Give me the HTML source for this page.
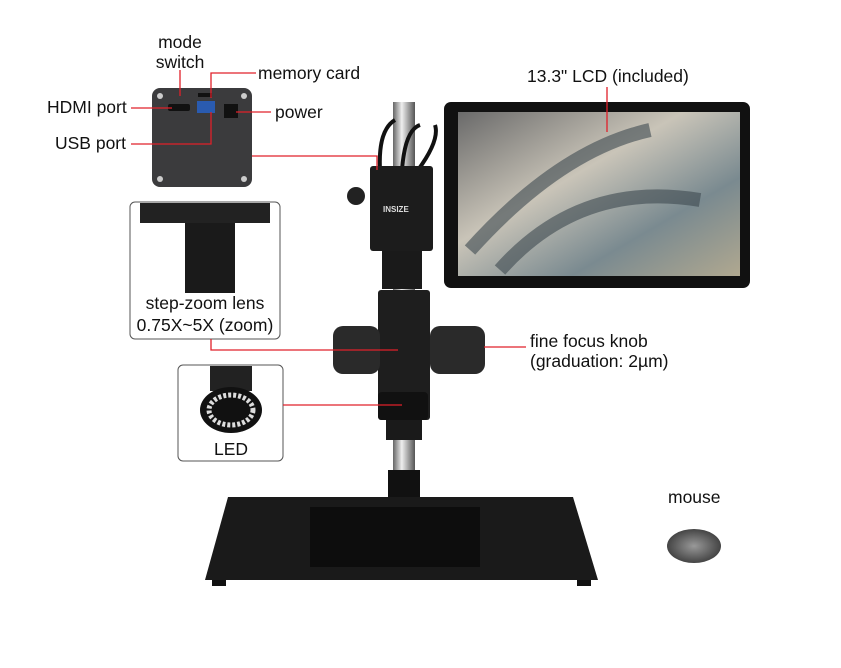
<!DOCTYPE html>
<html><head><style>
body{margin:0;background:#fff;}
svg text{font-family:"Liberation Sans",sans-serif;font-size:17.5px;fill:#111;}
</style></head><body>
<svg width="841" height="663" viewBox="0 0 841 663" xmlns="http://www.w3.org/2000/svg">
<defs>
<linearGradient id="pole" x1="0" x2="1"><stop offset="0" stop-color="#666"/><stop offset=".4" stop-color="#eee"/><stop offset="1" stop-color="#555"/></linearGradient>
<linearGradient id="scr" x1="0" x2="1" y1="0" y2="1"><stop offset="0" stop-color="#6a6a6a"/><stop offset=".4" stop-color="#c9c4b8"/><stop offset=".7" stop-color="#7a8a90"/><stop offset="1" stop-color="#b0a890"/></linearGradient>
<radialGradient id="mouse"><stop offset="0" stop-color="#999"/><stop offset="1" stop-color="#444"/></radialGradient>
</defs>
<rect x="152" y="88" width="100" height="99" rx="8" fill="#3b3b3d"/>
<circle cx="160" cy="96" r="3" fill="#ccc"/><circle cx="244" cy="96" r="3" fill="#ccc"/>
<circle cx="160" cy="179" r="3" fill="#ccc"/><circle cx="244" cy="179" r="3" fill="#ccc"/>
<rect x="168" y="104" width="22" height="7" rx="2" fill="#111"/>
<rect x="197" y="101" width="18" height="12" fill="#2a5bb0"/>
<rect x="224" y="104" width="14" height="14" fill="#111"/>
<rect x="198" y="93" width="14" height="4" fill="#111"/>
<rect x="393" y="102" width="22" height="390" fill="url(#pole)"/>
<path d="M380 170 Q378 130 395 120 M402 170 Q405 130 420 125 M418 170 Q440 140 435 125" stroke="#111" stroke-width="4" fill="none"/>
<rect x="370" y="166" width="63" height="85" rx="3" fill="#1c1c1c"/>
<circle cx="356" cy="196" r="9" fill="#222"/>
<text x="383" y="212" style="font-size:8px;fill:#ddd;font-weight:bold">INSIZE</text>
<rect x="382" y="251" width="40" height="38" fill="#1a1a1a"/>
<rect x="378" y="290" width="52" height="130" rx="3" fill="#1e1e1e"/>
<rect x="333" y="326" width="47" height="48" rx="10" fill="#2a2a2a"/>
<rect x="430" y="326" width="55" height="48" rx="10" fill="#2a2a2a"/>
<rect x="378" y="392" width="50" height="28" rx="4" fill="#111"/>
<rect x="386" y="420" width="36" height="20" fill="#1a1a1a"/>
<rect x="388" y="470" width="32" height="30" fill="#111"/>
<rect x="444" y="102" width="306" height="186" rx="7" fill="#111"/>
<rect x="458" y="112" width="282" height="164" fill="url(#scr)"/>
<path d="M470 250 Q560 150 650 130 M500 270 Q580 180 700 200" stroke="#3e4a50" stroke-width="14" fill="none" opacity=".6"/>
<path d="M228 497 L573 497 L598 580 L205 580 Z" fill="#1a1a1a"/>
<rect x="310" y="507" width="170" height="60" fill="#0d0d0d"/>
<rect x="212" y="580" width="14" height="6" fill="#111"/><rect x="577" y="580" width="14" height="6" fill="#111"/>
<ellipse cx="694" cy="546" rx="27" ry="17" fill="url(#mouse)"/>
<rect x="130" y="202" width="150" height="137" rx="5" fill="#fff" stroke="#555"/>
<rect x="185" y="203" width="50" height="90" fill="#1a1a1a"/>
<rect x="140" y="203" width="130" height="20" fill="#222"/>
<text x="205" y="309" text-anchor="middle">step-zoom lens</text>
<text x="205" y="331" text-anchor="middle">0.75X~5X (zoom)</text>
<rect x="178" y="365" width="105" height="96" rx="5" fill="#fff" stroke="#555"/>
<rect x="210" y="366" width="42" height="25" fill="#222"/>
<ellipse cx="231" cy="410" rx="31" ry="23" fill="#111"/>
<ellipse cx="231" cy="410" rx="22" ry="15" fill="none" stroke="#ddd" stroke-width="5" stroke-dasharray="3 2"/>
<text x="231" y="455" text-anchor="middle">LED</text>
<g stroke="#e0202a" stroke-width="1.3" fill="none">
<path d="M180 70 V96"/>
<path d="M211 98 V73 H256"/>
<path d="M131 108 H172"/>
<path d="M236 112 H271"/>
<path d="M131 144 H211 V112"/>
<path d="M252 156 H377 V170"/>
<path d="M607 87 V132"/>
<path d="M211 339 V350 H398"/>
<path d="M484 347 H526"/>
<path d="M283 405 H402"/>
</g>
<text x="180" y="48" text-anchor="middle">mode</text>
<text x="180" y="68" text-anchor="middle">switch</text>
<text x="258" y="79">memory card</text>
<text x="47" y="113">HDMI port</text>
<text x="275" y="118">power</text>
<text x="55" y="149">USB port</text>
<text x="527" y="82">13.3" LCD (included)</text>
<text x="530" y="347">fine focus knob</text>
<text x="530" y="367">(graduation: 2µm)</text>
<text x="668" y="503">mouse</text>
</svg>
</body></html>
